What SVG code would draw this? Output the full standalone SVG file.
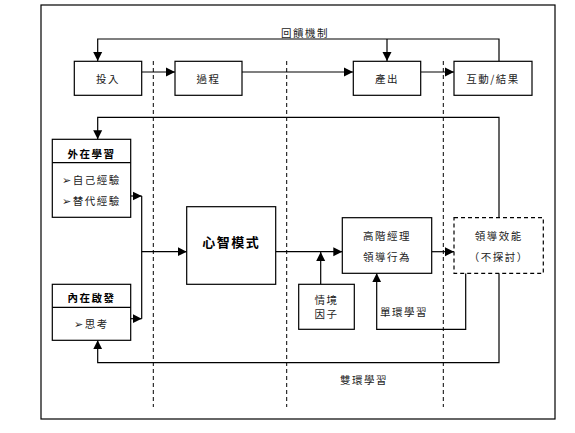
<svg xmlns="http://www.w3.org/2000/svg" width="575" height="433" viewBox="0 0 575 433">
<style>
.box{fill:#fff;stroke:#000;stroke-width:1.2}
.dbox{fill:#fff;stroke:#000;stroke-width:1.2;stroke-dasharray:4,3}
.ln{fill:none;stroke:#000;stroke-width:1.2}
.dash{fill:none;stroke:#000;stroke-width:1;stroke-dasharray:4,3}
text{font-family:"Noto Sans CJK TC","Noto Sans CJK SC",sans-serif;font-size:10.5px;letter-spacing:1.5px;fill:#222;text-anchor:middle;dominant-baseline:central}
.b{font-weight:bold;fill:#000}
.big{font-size:13px;font-weight:bold;fill:#000;letter-spacing:1.5px}
</style>
<defs>
<marker id="ah" markerWidth="10" markerHeight="10" refX="9" refY="5" orient="auto" markerUnits="userSpaceOnUse">
<path d="M0,0.5 L9,5 L0,9.5 Z" fill="#000"/>
</marker>
</defs>
<rect x="41" y="5" width="514" height="414" fill="none" stroke="#000" stroke-width="1.2"/>
<g id="dividers">
<line class="dash" x1="153.3" y1="61" x2="153.3" y2="407"/>
<line class="dash" x1="286.7" y1="61" x2="286.7" y2="407"/>
<line class="dash" x1="443.3" y1="61" x2="443.3" y2="407"/>
</g>
<g id="connectors">
<line class="ln" x1="142" y1="72" x2="175" y2="72" marker-end="url(#ah)"/>
<line class="ln" x1="242" y1="72" x2="353" y2="72" marker-end="url(#ah)"/>
<line class="ln" x1="421" y1="72" x2="454" y2="72" marker-end="url(#ah)"/>
<polyline class="ln" points="499,61 499,39 97.7,39 97.7,61" marker-end="url(#ah)"/>
<line class="ln" x1="387" y1="39" x2="387" y2="61" marker-end="url(#ah)"/>
<polyline class="ln" points="499,217.7 499,117.3 97.7,117.3 97.7,139.3" marker-end="url(#ah)"/>
<line class="ln" x1="130.7" y1="196" x2="141.7" y2="196" marker-end="url(#ah)"/>
<line class="ln" x1="130.7" y1="318.7" x2="141.7" y2="318.7" marker-end="url(#ah)"/>
<line class="ln" x1="141.7" y1="196" x2="141.7" y2="318.7"/>
<line class="ln" x1="141.7" y1="251.7" x2="186.7" y2="251.7" marker-end="url(#ah)"/>
<line class="ln" x1="275.7" y1="251.7" x2="342.3" y2="251.7" marker-end="url(#ah)"/>
<line class="ln" x1="320.7" y1="284.3" x2="320.7" y2="252" marker-end="url(#ah)"/>
<line class="ln" x1="431.7" y1="251.7" x2="454" y2="251.7" marker-end="url(#ah)"/>
<polyline class="ln" points="465.7,273.3 465.7,329.3 376.7,329.3 376.7,273.3" marker-end="url(#ah)"/>
<polyline class="ln" points="499,273.3 499,362.7 97.7,362.7 97.7,340.3" marker-end="url(#ah)"/>
<text x="305" y="32">回饋機制</text>
<text x="404" y="311.7">單環學習</text>
<text x="364" y="379">雙環學習</text>
</g>
<g id="n-input">
<rect class="box" x="74.3" y="61.3" width="67.4" height="34"/>
<text x="108" y="78.3">投入</text>
</g>
<g id="n-process">
<rect class="box" x="175" y="61.3" width="67" height="34"/>
<text x="208.5" y="78.3">過程</text>
</g>
<g id="n-output">
<rect class="box" x="353.3" y="61.3" width="67.4" height="34"/>
<text x="387" y="78.3">產出</text>
</g>
<g id="n-result">
<rect class="box" x="454" y="61.3" width="78" height="34"/>
<text x="493" y="78.3">互動/結果</text>
</g>
<g id="n-external">
<rect class="box" x="52.3" y="139.3" width="78.4" height="78"/>
<line class="ln" x1="52.3" y1="162.7" x2="130.7" y2="162.7"/>
<text class="b" x="91.5" y="153">外在學習</text>
<text x="91.5" y="179">➢自己經驗</text>
<text x="91.5" y="200.7">➢替代經驗</text>
</g>
<g id="n-internal">
<rect class="box" x="52.3" y="284.3" width="78.4" height="56"/>
<line class="ln" x1="52.3" y1="307.3" x2="130.7" y2="307.3"/>
<text class="b" x="91.5" y="297.7">內在啟發</text>
<text x="91.5" y="323">➢思考</text>
</g>
<g id="n-mental">
<rect class="box" x="186.7" y="206.7" width="89" height="77.6"/>
<text class="big" x="231.2" y="241.7">心智模式</text>
</g>
<g id="n-leader">
<rect class="box" x="342.3" y="217.7" width="89.4" height="55.6"/>
<text x="387" y="235">高階經理</text>
<text x="387" y="256">領導行為</text>
</g>
<g id="n-context">
<rect class="box" x="298.7" y="284.3" width="55.6" height="45"/>
<text x="326.5" y="299.3">情境</text>
<text x="326.5" y="313.3">因子</text>
</g>
<g id="n-effect">
<rect class="dbox" x="454" y="217.7" width="89.3" height="55.6"/>
<text x="498.7" y="235">領導效能</text>
<text x="498.7" y="256">（不探討）</text>
</g>
</svg>
